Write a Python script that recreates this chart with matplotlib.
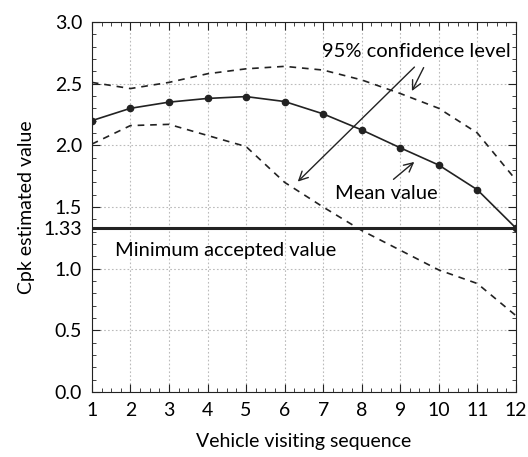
import numpy as np
import matplotlib
matplotlib.use('Agg')
import matplotlib.pyplot as plt
from matplotlib.ticker import MultipleLocator

plt.rcParams['font.family'] = ['Lato', 'DejaVu Sans']

# Data
vehicle = [1, 2, 3, 4, 5, 6, 7, 8, 9, 10, 11, 12]
mean_cpk = [2.20, 2.30, 2.35, 2.38, 2.395, 2.355, 2.255, 2.125, 1.98, 1.84, 1.64, 1.33]
upper_cpk = [2.51, 2.46, 2.51, 2.58, 2.62, 2.64, 2.61, 2.53, 2.42, 2.30, 2.10, 1.72]
lower_cpk = [2.01, 2.16, 2.17, 2.08, 1.99, 1.70, 1.50, 1.31, 1.15, 0.99, 0.88, 0.62]
min_accepted = 1.33
y_ticks = [0.0, 0.5, 1.0, 1.33, 1.5, 2.0, 2.5, 3.0]
y_tick_labels = ['0.0', '0.5', '1.0', '1.33', '1.5', '2.0', '2.5', '3.0']

fig = plt.figure(figsize=(5.28, 4.57), dpi=100)
ax = fig.add_axes([0.174, 0.142, 0.803, 0.810])

ax.plot(vehicle, upper_cpk, color='#222222', lw=1.2, ls=(0, (4, 3.5)))
ax.plot(vehicle, lower_cpk, color='#222222', lw=1.2, ls=(0, (4, 3.5)))
ax.plot(vehicle, mean_cpk, color='#222222', lw=1.2, marker='o', ms=4.5)
ax.axhline(min_accepted, color='#222222', lw=2.2, zorder=4)

ax.set_xlim(1, 12)
ax.set_ylim(0, 3.0)
ax.set_xticks(vehicle)
ax.set_yticks(y_ticks)
ax.set_yticklabels(y_tick_labels)
ax.xaxis.set_minor_locator(MultipleLocator(0.25))
ax.yaxis.set_minor_locator(MultipleLocator(0.1))
ax.tick_params(which='both', direction='in', top=True, right=True, labelsize=14, color='#222222')
ax.tick_params(which='major', length=6, pad=7)
ax.tick_params(which='minor', length=3)
ax.grid(True, which='major', color='#bbbbbb', ls=(0, (1.5, 2)), lw=0.8)
for s in ax.spines.values():
    s.set_color('#222222')

ax.set_xlabel('Vehicle visiting sequence', fontsize=14, labelpad=10)
ax.set_ylabel('Cpk estimated value', fontsize=14, labelpad=6)

# Annotations
ax.text(9.42, 2.76, '95% confidence level', fontsize=14.5, ha='center', va='center')
ax.annotate('', xy=(6.29, 1.69), xytext=(9.42, 2.65),
            arrowprops=dict(arrowstyle='->', color='#222222', lw=1.0, mutation_scale=16))
ax.annotate('', xy=(9.27, 2.42), xytext=(9.64, 2.65),
            arrowprops=dict(arrowstyle='->', color='#222222', lw=1.0, mutation_scale=16))
ax.text(8.65, 1.61, 'Mean value', fontsize=14.5, ha='center', va='center')
ax.annotate('', xy=(9.42, 1.88), xytext=(8.77, 1.71),
            arrowprops=dict(arrowstyle='->', color='#222222', lw=1.0, mutation_scale=16))
ax.text(1.6, 1.15, 'Minimum accepted value', fontsize=14.5, ha='left', va='center')

fig.savefig('out.png', dpi=100)
